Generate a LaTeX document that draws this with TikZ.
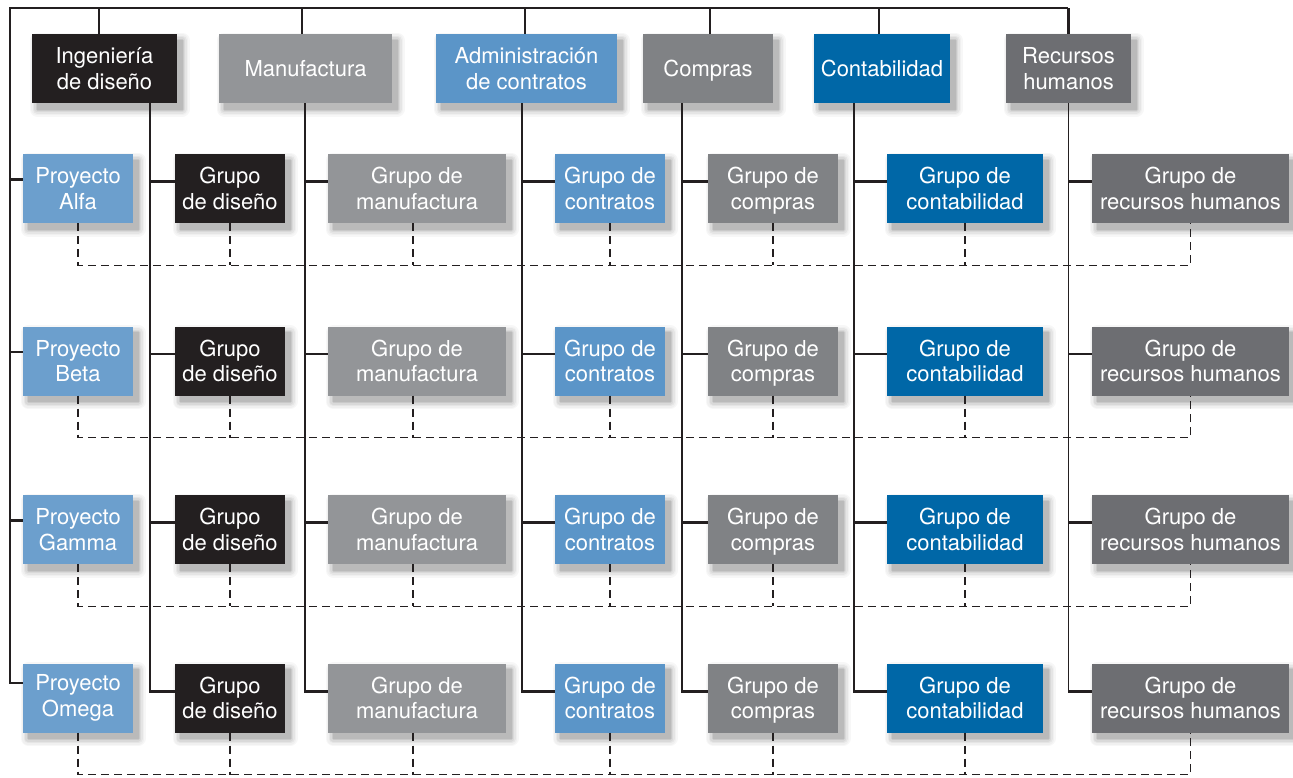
\documentclass[tikz,border=0pt]{standalone}
\usepackage{fontspec}
\setmainfont{TeX Gyre Heros}

\definecolor{cBlack}{HTML}{231F20}
\definecolor{cMan}{HTML}{939598}
\definecolor{cAdm}{HTML}{5B95C8}
\definecolor{cProj}{HTML}{6C9FCD}
\definecolor{cCom}{HTML}{808285}
\definecolor{cCon}{HTML}{0067A7}
\definecolor{cRec}{HTML}{6D6E72}
\definecolor{cLine}{HTML}{231F20}

% label font with a fixed line pitch
\newcommand\boxfont{\fontsize{22}{25.5}\selectfont}

\tikzset{
  shadowring/.style 2 args={preaction={draw=#1, fill=#1, line width=#2,
      line join=round, transform canvas={shift={(5pt,-6pt)}}}},
  softshadow/.style={
    shadowring={black!3}{15pt}, shadowring={black!6}{12pt},
    shadowring={black!10}{9pt}, shadowring={black!15}{6pt},
    shadowring={black!21}{3pt}, shadowring={black!27}{0.1pt}},
  box/.style={rectangle, inner sep=0pt, minimum height=69pt, softshadow},
  lbl/.style={inner sep=0pt, text=white, align=center, font=\boxfont},
  % centred label; the second form compensates for a descender on the last line
  txt/.style={label={[lbl]center:{#1}}},
  txtp/.style={label={[lbl, yshift=-2pt]center:{#1}}},
  spine/.style={draw=cLine, line width=1.2pt},
  stub/.style={draw=cLine, line width=2.3pt},
  dashln/.style={draw=cLine, line width=1.3pt, dash pattern=on 8pt off 5pt},
}

\begin{document}
\begin{tikzpicture}[x=1pt, y=1pt]
\useasboundingbox (0,0) rectangle (1293,-777);

% department heads
\node[box, fill=cBlack, minimum width=145pt, txt={Ingeniería\\de diseño}] (ing) at (104.5,-68.5) {};
\node[box, fill=cMan,   minimum width=173pt, txt={Manufactura}] (man) at (305.5,-68.5) {};
\node[box, fill=cAdm,   minimum width=181pt, txt={Administración\\de contratos}] (adm) at (526.5,-68.5) {};
\node[box, fill=cCom,   minimum width=130pt, txtp={Compras}] (com) at (708,-68.5) {};
\node[box, fill=cCon,   minimum width=136pt, txt={Contabilidad}] (con) at (882,-68.5) {};
\node[box, fill=cRec,   minimum width=125pt, txt={Recursos\\humanos}] (rec) at (1068.5,-68.5) {};

% project rows
\foreach \r/\y/\p in {1/-188.5/Alfa, 2/-361/Beta, 3/-529.5/Gamma, 4/-698/Omega}{
  \node[box, fill=cProj,  minimum width=110pt, txt={Proyecto\\\p}] (P\r) at (78,\y) {};
  \node[box, fill=cBlack, minimum width=110pt, txt={Grupo\\de diseño}] (D\r) at (230,\y) {};
  \node[box, fill=cMan,   minimum width=178pt, txt={Grupo de\\manufactura}] (M\r) at (417,\y) {};
  \node[box, fill=cAdm,   minimum width=110pt, txt={Grupo de\\contratos}] (Ct\r) at (610,\y) {};
  \node[box, fill=cCom,   minimum width=130pt, txtp={Grupo de\\compras}] (Cp\r) at (773,\y) {};
  \node[box, fill=cCon,   minimum width=156pt, txt={Grupo de\\contabilidad}] (Cb\r) at (965,\y) {};
  \node[box, fill=cRec,   minimum width=197pt, txt={Grupo de\\recursos humanos}] (R\r) at (1190.5,\y) {};
}

% top bus and project spine
\coordinate (tl) at (10,-8);
\coordinate (tr) at (1068,-8);
\draw[spine] ([yshift=15pt]P4.west) -| (tl) -- (tr);
\draw[stub] ([xshift=-5.5pt]ing.north) -- ([xshift=-5.5pt]ing.north |- tl);
\draw[stub] ([xshift=-3.5pt]man.north) -- ([xshift=-3.5pt]man.north |- tl);
\draw[stub] ([xshift=-1.5pt]adm.north) -- ([xshift=-1.5pt]adm.north |- tl);
\draw[stub] ([xshift=2pt]com.north)    -- ([xshift=2pt]com.north |- tl);
\draw[stub] ([xshift=-3pt]con.north)   -- ([xshift=-3pt]con.north |- tl);
\draw[stub] (rec.north) -- (rec.north |- tr);

% department spines
\draw[spine] ([xshift=45.5pt]ing.south) |- ([yshift=6pt]D4.west);
\draw[spine] ([xshift=-0.5pt]man.south) |- ([yshift=6pt]M4.west);
\draw[spine] ([xshift=-4.5pt]adm.south) |- ([yshift=6pt]Ct4.west);
\draw[spine] ([xshift=-26pt]com.south)  |- ([yshift=6pt]Cp4.west);
\draw[spine] ([xshift=-28pt]con.south)  |- ([yshift=6pt]Cb4.west);
\draw[spine] (rec.south) |- ([yshift=6pt]R4.west);

% short links into each row
\foreach \r in {1,2,3}{
  \draw[stub] ([yshift=9pt]P\r.west) -- +(-13,0);
}
\draw[stub] ([yshift=15pt]P4.west) -- +(-8,0);
\foreach \r in {1,2,3,4}{
  \draw[stub] ([yshift=7pt]D\r.west)  -- +(-25,0);
  \draw[stub] ([yshift=7pt]M\r.west)  -- +(-23,0);
  \draw[stub] ([yshift=7pt]Ct\r.west) -- +(-33,0);
  \draw[stub] ([yshift=7pt]Cp\r.west) -- +(-26,0);
  \draw[stub] ([yshift=7pt]Cb\r.west) -- +(-33,0);
  \draw[stub] ([yshift=7pt]R\r.west)  -- +(-24,0);
}

% dashed project links
\foreach \r in {1,2,3,4}{
  \draw[dashln] (P\r.south) -- ++(0,-42) coordinate (h\r) -| (R\r.south);
  \draw[dashln] (D\r.south)  -- (D\r.south |- h\r);
  \draw[dashln] ([xshift=-4pt]M\r.south) -- ([xshift=-4pt]M\r.south |- h\r);
  \draw[dashln] (Ct\r.south) -- (Ct\r.south |- h\r);
  \draw[dashln] (Cp\r.south) -- (Cp\r.south |- h\r);
  \draw[dashln] (Cb\r.south) -- (Cb\r.south |- h\r);
}
\end{tikzpicture}
\end{document}
